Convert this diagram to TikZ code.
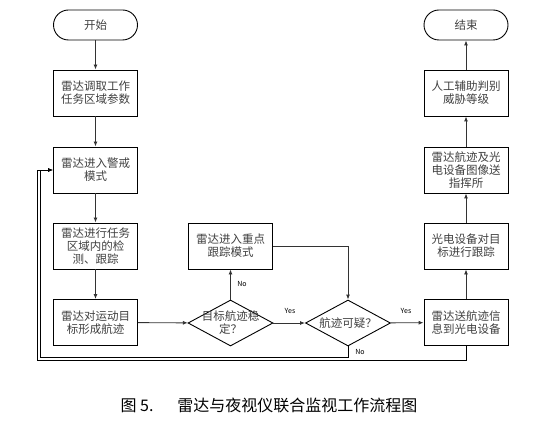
\documentclass[tikz,border=0pt]{standalone}
\usepackage{fontspec}
\setmainfont{Noto Sans CJK SC}
\usetikzlibrary{shapes.geometric,arrows.meta}
\begin{document}
\begin{tikzpicture}[x=1bp,y=-1bp]
            \tikzstyle{boite}=[rectangle,draw,line width=0.9bp,minimum width=84bp,minimum height=46bp,inner sep=1bp,align=center,text=black!75,font=\fontsize{11.5bp}{13bp}\selectfont]
            \tikzstyle{borne}=[boite,rounded corners=15bp,minimum height=30bp]
            \tikzstyle{test}=[diamond,draw,line width=0.9bp,minimum width=85bp,minimum height=46bp,inner sep=0pt]
            \tikzstyle{lien}=[line width=0.9bp,black!80,-{Latex[length=5bp,width=4bp]}]
            \tikzstyle{mot}=[font=\fontsize{7bp}{8bp}\selectfont,inner sep=0pt]
            \useasboundingbox (0,0) rectangle (551,436);
            \node[borne] (debut) at (95.5,25) {开始};
            \node[boite] (param) at (95.5,93) {雷达调取工作\\任务区域参数};
            \node[boite] (veille) at (95.5,170) {雷达进入警戒\\模式};
            \node[boite] (detect) at (95.5,246) {雷达进行任务\\区域内的检\\测、跟踪};
            \node[boite] (piste) at (95.5,322.5) {雷达对运动目\\标形成航迹};
            \node[test,label={[align=center,text=black!75,font=\fontsize{11.5bp}{13bp}\selectfont]center:目标航迹稳\\定？}] (stable) at (230.5,323) {};
            \node[boite] (suivi) at (230.5,246) {雷达进入重点\\跟踪模式};
            \node[test,label={[text=black!75,font=\fontsize{11.5bp}{13bp}\selectfont]center:航迹可疑？}] (doute) at (348,323) {};
            \node[boite] (envoi) at (466,322.5) {雷达送航迹信\\息到光电设备};
            \node[boite] (optro) at (466,246) {光电设备对目\\标进行跟踪};
            \node[boite] (poste) at (466,170) {雷达航迹及光\\电设备图像送\\指挥所};
            \node[boite] (juge) at (466,93) {人工辅助判别\\威胁等级};
            \node[borne] (fin) at (466,25) {结束};
            \coordinate (retourA) at (40.5,357);
            \coordinate (retourB) at (37.5,360);
            \draw[lien] (debut) -- (param);
            \draw[lien] (param) -- (veille);
            \draw[lien] (veille) -- (detect);
            \draw[lien] (detect) -- (piste);
            \draw[lien] (piste) -- (stable);
            \draw[lien] (stable) -- (suivi);
            \draw[lien] (suivi.east) -| (doute.north);
            \draw[lien] (stable) -- (doute);
            \draw[lien] (doute) -- (envoi);
            \draw[lien] (envoi) -- (optro);
            \draw[lien] (optro) -- (poste);
            \draw[lien] (poste) -- (juge);
            \draw[lien] (juge) -- (fin);
            \draw[lien,black] (doute.south) |- (retourA) |- (veille.west);
            \draw[lien,black] (envoi.south) |- (retourB) |- (veille.west);
            \node[mot] (non1) at (242,284) {No};
            \node[mot] (oui1) at (290,311) {Yes};
            \node[mot] (oui2) at (406,311) {Yes};
            \node[mot] (non2) at (360,352) {No};
            \node[font=\fontsize{16bp}{18bp}\selectfont] (titre) at (269,405) {图 5.\hspace{24bp}雷达与夜视仪联合监视工作流程图};
\end{tikzpicture}
\end{document}
